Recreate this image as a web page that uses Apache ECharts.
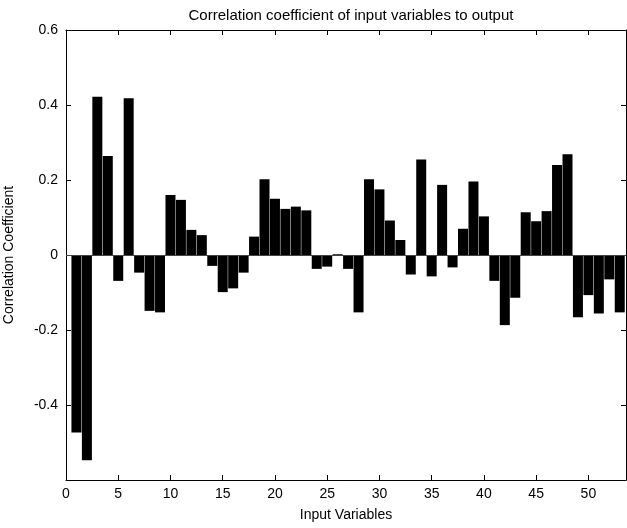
<!DOCTYPE html>
<html>
<head>
<meta charset="utf-8">
<script src="https://cdn.jsdelivr.net/npm/echarts@6/dist/echarts.min.js"></script>
<style>
html,body{margin:0;padding:0;background:#fff;}
#chart{width:627px;height:528px;}
</style>
</head>
<body>
<div id="chart"></div>
<script>
const titleText = 'Correlation coefficient of input variables to output';
const xName = 'Input Variables';
const yName = 'Correlation Coefficient';
const inputs = [1,2,3,4,5,6,7,8,9,10,11,12,13,14,15,16,17,18,19,20,21,22,23,24,25,26,27,28,29,30,31,32,33,34,35,36,37,38,39,40,41,42,43,44,45,46,47,48,49,50,51,52,53];
const corr = [-0.473,-0.547,0.422,0.264,-0.069,0.418,-0.047,-0.149,-0.153,0.160,
  0.147,0.067,0.053,-0.029,-0.099,-0.089,-0.047,0.049,0.202,0.150,
  0.123,0.129,0.119,-0.037,-0.031,0.002,-0.037,-0.153,0.202,0.175,
  0.092,0.040,-0.052,0.255,-0.057,0.187,-0.033,0.070,0.196,0.103,
  -0.069,-0.187,-0.114,0.114,0.090,0.117,0.240,0.269,-0.166,-0.107,
  -0.156,-0.065,-0.153];
const yTicks = [-0.4,-0.2,0,0.2,0.4,0.6];

const font = 'Liberation Sans, Arial, sans-serif';
const chart = echarts.init(document.getElementById('chart'));
const data = inputs.map((x,i)=>[x, corr[i]]);
const axLine = {show:true, onZero:false, lineStyle:{color:'#000', width:1}};
const tick = {show:true, inside:true, length:5, lineStyle:{color:'#000'}};
chart.setOption({
  animation:false,
  backgroundColor:'#fff',
  title:{text:titleText, left:346, textAlign:'center', top:3,
    textStyle:{fontFamily:font, fontSize:15, fontWeight:'normal', color:'#000'}},
  grid:{left:66, right:1, top:30, bottom:48, containLabel:false, outerBoundsMode:'none'},
  xAxis:[{type:'value', min:0, max:53.6, interval:5, position:'bottom',
    name:xName, nameLocation:'middle', nameGap:28,
    nameTextStyle:{fontFamily:font, fontSize:14, color:'#000'},
    axisLine:axLine, axisTick:tick, splitLine:{show:false},
    axisLabel:{fontFamily:font, fontSize:14, color:'#000', margin:7, showMaxLabel:false}},
   {type:'value', min:0, max:53.6, interval:5, position:'top',
    axisLine:axLine, axisTick:tick, splitLine:{show:false}, axisLabel:{show:false}}],
  yAxis:[{type:'value', min:-0.6, max:0.6, interval:0.2, position:'left',
    name:yName, nameLocation:'middle', nameGap:50,
    nameTextStyle:{fontFamily:font, fontSize:14, color:'#000'},
    axisLine:axLine, axisTick:tick, splitLine:{show:false},
    axisLabel:{fontFamily:font, fontSize:14, color:'#000', margin:8,
      formatter:v=>{const r=Math.round(v*10)/10; return yTicks.indexOf(r)>=0 ? String(r) : '';}}},
   {type:'value', min:-0.6, max:0.6, interval:0.2, position:'right',
    axisLine:axLine, axisTick:tick, splitLine:{show:false}, axisLabel:{show:false}}],
  series:[{type:'bar', xAxisIndex:0, yAxisIndex:0, data:data, barWidth:10,
    itemStyle:{color:'#000'},
    markLine:{silent:true, symbol:'none', label:{show:false},
      lineStyle:{color:'#444', width:1, type:'solid'}, data:[{yAxis:0}]}}]
});
</script>
</body>
</html>
